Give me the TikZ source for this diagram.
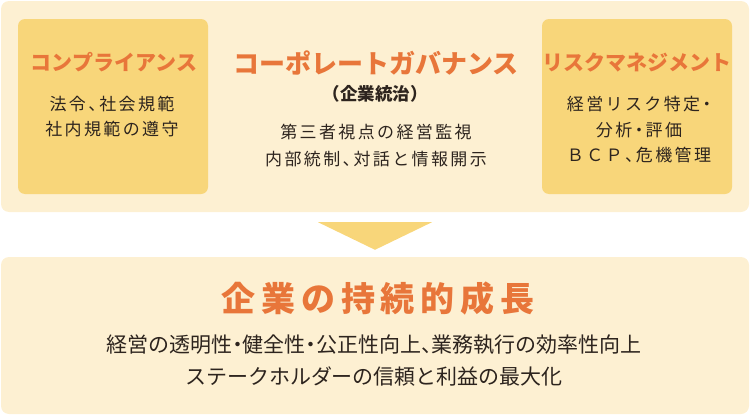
\documentclass[tikz,border=0pt]{standalone}
\usepackage{fontspec}
\setmainfont{Noto Sans CJK JP}[RawFeature=+halt]
\usepackage{xcolor}
\usepackage{tikz}
\usetikzlibrary{calc,positioning}
\definecolor{cream}{RGB}{253,240,210}
\definecolor{mustard}{RGB}{248,214,122}
\definecolor{rust}{RGB}{232,118,58}
\definecolor{ink}{RGB}{45,36,30}

\begin{document}
\begin{tikzpicture}[line cap=round,line join=round,x=1pt,y=-1pt,
  panel/.style={fill=cream,rounded corners=8pt,inner sep=0pt},
  pillar/.style={fill=mustard,rounded corners=7pt,inner sep=0pt,minimum width=190pt,minimum height=175pt},
  head/.style={text=rust,inner sep=0pt,font=\fontsize{21}{25}\selectfont\bfseries},
  body/.style={text=ink,align=center,inner sep=0pt,font=\fontsize{17}{25}\selectfont\addfontfeatures{LetterSpace=14}}]
\useasboundingbox (0,0) rectangle (750,415);
% upper panel
\node[panel,minimum width=748pt,minimum height=211pt] (upper) at (375,106.5) {};
\node[pillar] (comp) at (113,106.5) {};
\node[pillar] (risk) at (637,106.5) {};
\node[head] (compT) at (114,62.5) {コンプライアンス};
\node[head,font=\fontsize{26}{30}\selectfont\bfseries] (govT) at (376,62.5) {コーポレートガバナンス};
\node[head] (riskT) at (637,62.5) {リスクマネジメント};
\node[body] (compB) at (112,117) {法令、社会規範\\社内規範の遵守};
\node[body,font=\fontsize{17.5}{20}\selectfont\bfseries] (govS) at (375,93.5) {（企業統治）};
\node[body,font=\fontsize{17}{27}\selectfont\addfontfeatures{LetterSpace=14}] (govB) at (376,146) {第三者視点の経営監視\\内部統制、対話と情報開示};
\node[body,font=\fontsize{17}{25.5}\selectfont\addfontfeatures{LetterSpace=14}] (riskB) at (639,130) {経営リスク特定・\\分析・評価\\ＢＣＰ、危機管理};
% lower panel
\node[panel,minimum width=748pt,minimum height=157pt] (lower) at (375,335.5) {};
\node[head,font=\fontsize{34}{40}\selectfont\bfseries\addfontfeatures{LetterSpace=17}] (goal) at (378,299) {企業の持続的成長};
\node[body,font=\fontsize{21}{32}\selectfont] (goalB) at (374,361) {経営の透明性・健全性・公正性向上、業務執行の効率性向上\\ステークホルダーの信頼と利益の最大化};
% arrow
\fill[mustard] ($(upper.south)+(-57,10)$) -- ($(upper.south)+(57,10)$) -- ($(lower.north)+(0,-7)$) -- cycle;
\end{tikzpicture}
\end{document}
